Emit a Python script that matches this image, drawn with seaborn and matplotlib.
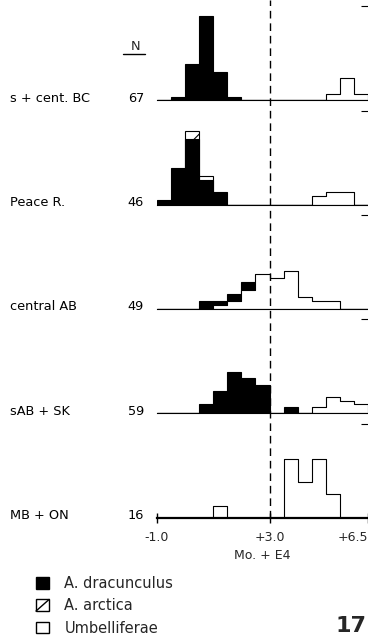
import numpy as np
import pandas as pd
import matplotlib
matplotlib.use("Agg")
import matplotlib.pyplot as plt
import matplotlib.transforms as mtransforms
from matplotlib.lines import Line2D
from matplotlib.patches import Patch, Rectangle
from matplotlib.legend_handler import HandlerPatch
import seaborn as sns

# Mo. + E4 classes (0.5 wide), left edges
bin_left = [-1.0, -0.5, 0.0, 0.5, 1.0, 1.5, 2.0, 2.5, 3.0, 3.5, 4.0, 4.5, 5.0, 5.5, 6.0]
bin_width = 0.5

regions = ["s + cent. BC", "Peace R.", "central AB", "sAB + SK", "MB + ON"]
n_samples = [67, 46, 49, 59, 16]

# grain counts per class for each region
bc_dracunculus = [0, 1, 13, 30, 10, 1, 0, 0, 0, 0, 0, 0, 0, 0, 0]
bc_arctica     = [0, 0, 0, 0, 0, 0, 0, 0, 0, 0, 0, 0, 0, 0, 0]
bc_umbelliferae = [0, 0, 0, 0, 0, 0, 0, 0, 0, 0, 0, 0, 2, 8, 2]

peace_dracunculus = [1, 9, 16, 6, 3, 0, 0, 0, 0, 0, 0, 0, 0, 0, 0]
peace_arctica     = [0, 0, 2, 1, 0, 0, 0, 0, 0, 0, 0, 0, 0, 0, 0]
peace_umbelliferae = [0, 0, 0, 0, 0, 0, 0, 0, 0, 0, 0, 2, 3, 3, 0]

cab_dracunculus = [0, 0, 0, 2, 1, 2, 2, 0, 0, 0, 0, 0, 0, 0, 0]
cab_arctica     = [0, 0, 0, 0, 0, 0, 0, 0, 0, 0, 0, 0, 0, 0, 0]
cab_umbelliferae = [0, 0, 0, 0, 1, 2, 5, 9, 8, 10, 3, 2, 2, 0, 0]

sab_dracunculus = [0, 0, 0, 3, 7, 13, 11, 9, 0, 2, 0, 0, 0, 0, 0]
sab_arctica     = [0, 0, 0, 0, 0, 0, 0, 0, 0, 0, 0, 0, 0, 0, 0]
sab_umbelliferae = [0, 0, 0, 0, 0, 0, 0, 0, 0, 0, 0, 2, 5, 4, 3]

mb_dracunculus = [0, 0, 0, 0, 0, 0, 0, 0, 0, 0, 0, 0, 0, 0, 0]
mb_arctica     = [0, 0, 0, 0, 0, 0, 0, 0, 0, 0, 0, 0, 0, 0, 0]
mb_umbelliferae = [0, 0, 0, 0, 1, 0, 0, 0, 0, 5, 3, 5, 2, 0, 0]

region_counts = [
    (bc_dracunculus, bc_arctica, bc_umbelliferae),
    (peace_dracunculus, peace_arctica, peace_umbelliferae),
    (cab_dracunculus, cab_arctica, cab_umbelliferae),
    (sab_dracunculus, sab_arctica, sab_umbelliferae),
    (mb_dracunculus, mb_arctica, mb_umbelliferae),
]

x_ticks = [-1.0, 3.0, 6.5]
x_ticklabels = ["-1.0", "+3.0", "+6.5"]
x_label = "Mo. + E4"
legend_labels = ["A. dracunculus", "A. arctica", "Umbelliferae"]

sns.set_theme(style="white")
plt.rcParams["font.family"] = ["DejaVu Sans"]
plt.rcParams["hatch.linewidth"] = 0.8
plt.rcParams["hatch.color"] = "black"

W, H = 368, 640
fig = plt.figure(figsize=(W / 100, H / 100), dpi=100)
fig.patch.set_facecolor("white")

edges = [float(e) for e in bin_left] + [bin_left[-1] + bin_width]
centers = np.array(bin_left) + bin_width / 2

ax_left_px, ax_right_px = 157, 368
baselines_px = [100, 204.5, 309, 413.3, 517.5]
ax_h_px = 94
y_top = 50

LW = 0.8


def layer(ax, heights, element, **style):
    df = pd.DataFrame({"mo": centers, "pct": heights})
    sns.histplot(data=df, x="mo", weights="pct", bins=edges, stat="count",
                 element=element, ax=ax, alpha=1, legend=False,
                 edgecolor="black", linewidth=LW, **style)


def draw_region(ax, drac, arct, umb, n):
    drac = np.asarray(drac, float)
    arct = np.asarray(arct, float)
    umb = np.asarray(umb, float)
    scale = 100.0 / n
    middle = umb + drac
    upper = middle + arct
    if arct.any():
        layer(ax, np.where(arct > 0, upper, 0) * scale, "bars", facecolor="white", hatch="/")
    if drac.any():
        layer(ax, np.where(drac > 0, middle, 0) * scale, "bars", facecolor="black")
    layer(ax, umb * scale, "step", facecolor="white")


axes = []
for i, (name, n, (drac, arct, umb)) in enumerate(zip(regions, n_samples, region_counts)):
    b = baselines_px[i]
    ax = fig.add_axes([ax_left_px / W, 1 - b / H, (ax_right_px - ax_left_px) / W, ax_h_px / H])
    ax.patch.set_alpha(0)
    draw_region(ax, drac, arct, umb, n)
    ax.set_xlim(bin_left[0], 6.5)
    ax.set_ylim(0, y_top)
    ax.set_xlabel("")
    ax.set_ylabel("")
    for s in ["top", "left", "right"]:
        ax.spines[s].set_visible(False)
    ax.spines["bottom"].set_color("black")
    ax.spines["bottom"].set_linewidth(LW)
    ax.set_yticks([y_top])
    ax.tick_params(axis="y", left=False, right=True, labelleft=False, labelright=False,
                   direction="in", length=5, width=LW, color="black")
    ax.tick_params(axis="x", bottom=False, labelbottom=False)

    tr = mtransforms.blended_transform_factory(fig.transFigure, ax.transAxes)
    ax.text(10 / W, -1.5 / ax_h_px, name, transform=tr, ha="left", va="baseline",
            fontsize=9.3, color="black")
    ax.text(144 / W, -1.5 / ax_h_px, str(n), transform=tr, ha="right", va="baseline",
            fontsize=9.3, color="black")
    axes.append(ax)

# bottom axis with scale
axb = axes[-1]
axb.spines["bottom"].set_linewidth(1.6)
axb.set_xticks(x_ticks)
axb.set_xticklabels(x_ticklabels)
axb.tick_params(axis="x", bottom=True, labelbottom=True, direction="inout", length=7,
                width=1.0, color="black", labelsize=9, pad=6)
axb.get_xticklabels()[-1].set_ha("right")
axb.set_xlabel(x_label, fontsize=9, labelpad=4)

# reference line at +3.0 across all panels
ov_bottom = baselines_px[-1]
ov = fig.add_axes([ax_left_px / W, 1 - ov_bottom / H, (ax_right_px - ax_left_px) / W, ov_bottom / H])
ov.set_xlim(bin_left[0], 6.5)
ov.axis("off")
ov.axvline(3.0, color="black", linewidth=1.0, dashes=(5.5, 3.5))

# column heading
fig.text(136 / W, 1 - 50 / H, "N", ha="center", va="baseline", fontsize=9.3)
fig.add_artist(Line2D([123 / W, 145 / W], [1 - 53.5 / H, 1 - 53.5 / H],
                      transform=fig.transFigure, color="black", linewidth=1))


class DiagonalBox(HandlerPatch):
    """Open square crossed by one diagonal, the key for the hatched class."""

    def create_artists(self, legend, orig_handle, xdescent, ydescent, width, height,
                       fontsize, trans):
        x0, y0 = -xdescent, -ydescent
        box = Rectangle((x0, y0), width, height, facecolor="white", edgecolor="black",
                        linewidth=1, transform=trans)
        diag = Line2D([x0, x0 + width], [y0, y0 + height], color="black", linewidth=1,
                      transform=trans)
        return [box, diag]


# legend
h_drac = Patch(facecolor="black", edgecolor="black", linewidth=1)
h_arct = Patch(facecolor="white", edgecolor="black", linewidth=1)
h_umb = Patch(facecolor="white", edgecolor="black", linewidth=1)
fig.legend([h_drac, h_arct, h_umb], legend_labels, loc="upper left",
           bbox_to_anchor=(36 / W, 1 - 576 / H), handler_map={h_arct: DiagonalBox()},
           frameon=False, fontsize=10.5, handlelength=0.9, handleheight=0.85,
           handletextpad=1.05, labelspacing=0.5, borderpad=0, borderaxespad=0)

fig.text(367 / W, 1 - 632 / H, "17", ha="right", va="baseline", fontsize=16, fontweight="bold")

fig.savefig("out.png", dpi=100, facecolor="white")
